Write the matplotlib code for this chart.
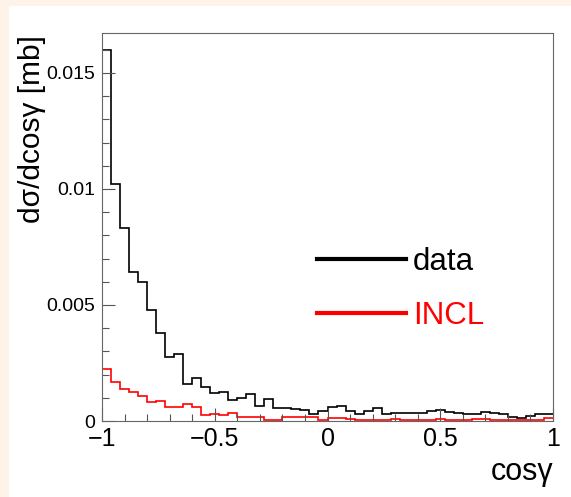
import numpy as np
import matplotlib
matplotlib.use("Agg")
import matplotlib.pyplot as plt
from matplotlib.lines import Line2D
from matplotlib.patches import Rectangle

# ---- data (50 bins from -1 to 1) ----
x_min, x_max, n_bins = -1.0, 1.0, 50

data_vals = [
    0.0160, 0.0102, 0.0083, 0.0064, 0.0060, 0.0048, 0.0038, 0.00275, 0.0029, 0.0016,
    0.00184, 0.00145, 0.0012, 0.00126, 0.0009, 0.00098, 0.00118, 0.00066, 0.00095, 0.00055,
    0.00055, 0.00052, 0.00049, 0.00032, 0.00044, 0.00060, 0.00064, 0.00045, 0.00030, 0.00045,
    0.00056, 0.00031, 0.00036, 0.00034, 0.00034, 0.00036, 0.00044, 0.00046, 0.00040, 0.00033,
    0.00030, 0.00030, 0.00040, 0.00033, 0.00030, 0.00016, 0.00014, 0.00023, 0.00030, 0.00030,
]

incl_vals = [
    0.00224, 0.0017, 0.00137, 0.00124, 0.00109, 0.00083, 0.00087, 0.00059, 0.00062, 0.00072,
    0.00062, 0.00026, 0.00031, 0.00026, 0.00036, 0.00019, 0.00016, 0.00017, 0.00006, 0.00006,
    0.00016, 0.00016, 0.00016, 0.00016, 0.00006, 0.00012, 0.00012, 0.00010, 0.00006, 0.00004,
    0.00004, 0.00004, 0.00010, 0.00004, 0.00004, 0.00004, 0.00004, 0.00010, 0.00004, 0.00004,
    0.00004, 0.00008, 0.00008, 0.00004, 0.00004, 0.00004, 0.00004, 0.00004, 0.00006, 0.00015,
]

x_ticks = [-1, -0.5, 0, 0.5, 1]
x_tick_labels = ["\u22121", "\u22120.5", "0", "0.5", "1"]
y_ticks = [0, 0.005, 0.01, 0.015]
y_tick_labels = ["0", "0.005", "0.01", "0.015"]
series_labels = ["data", "INCL"]
series_colors = ["black", "#ff0000"]

plt.rcParams['font.family'] = ['Liberation Sans', 'DejaVu Sans']

W, H = 571, 497
fig = plt.figure(figsize=(W / 100, H / 100), dpi=100, facecolor="#fdf3e8")
fig.patches.append(Rectangle((9 / W, 0), 1, 1 - 6 / H, transform=fig.transFigure,
                             facecolor="white", edgecolor="none", zorder=-10))

L, R, T, B = 102, 553, 33, 421
ax = fig.add_axes([L / W, 1 - B / H, (R - L) / W, (B - T) / H])

edges = np.linspace(x_min, x_max, n_bins + 1)
ax.stairs(data_vals, edges, color=series_colors[0], lw=1.2, baseline=None)
ax.stairs(incl_vals, edges, color=series_colors[1], lw=1.2, baseline=None)

ax.set_xlim(x_min, x_max)
ax.set_ylim(0, 0.01672)

ax.set_xticks(x_ticks)
ax.set_xticklabels(x_tick_labels)
ax.set_yticks(y_ticks)
ax.set_yticklabels(y_tick_labels)
ax.set_xticks(np.arange(-1, 1.0001, 0.1), minor=True)
ax.set_yticks(np.arange(0, 0.0166, 0.001), minor=True)

for s in ax.spines.values():
    s.set_color("#666666")
    s.set_linewidth(0.8)

ax.tick_params(which="both", direction="in", top=False, right=False, colors="#555555", width=0.8)
ax.tick_params(which="major", length=9.4)
ax.tick_params(which="minor", length=5)
ax.tick_params(axis="x", which="major", labelsize=18, labelcolor="black", pad=4)
ax.tick_params(axis="y", which="major", labelsize=14, labelcolor="black", pad=5)

ax.set_ylabel("d\u03c3/dcos\u03b3 [mb]", fontsize=21.5, loc="top")
ax.yaxis.set_label_coords(-0.125, 0.995)
ax.set_xlabel("cos\u03b3", fontsize=22, loc="right")
ax.xaxis.label.set_va("baseline")
ax.xaxis.set_label_coords(1.0, -(480 - B) / (B - T))

handles = [Line2D([], [], color=c, lw=3.0) for c in series_colors]
ax.legend(handles, series_labels, loc="upper left",
          bbox_to_anchor=((317 - L) / (R - L), (B - 247) / (B - T)),
          frameon=False, fontsize=22.5, handlelength=2.84, handletextpad=0.22, borderpad=0,
          borderaxespad=0, labelspacing=0.77, labelcolor=series_colors)

fig.savefig("out.png", dpi=100, facecolor=fig.get_facecolor())
